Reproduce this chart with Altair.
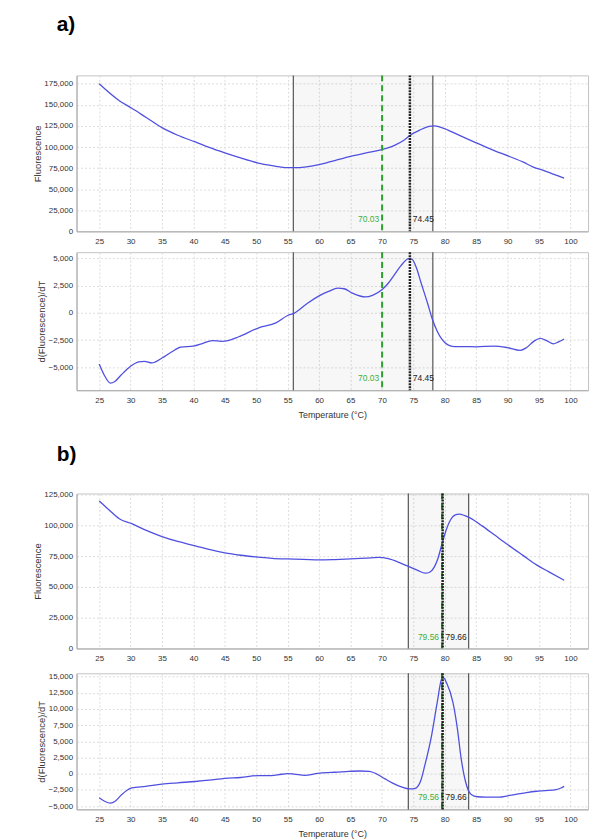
import altair as alt
import pandas as pd

# ---------------- data ----------------
# panel a) fluorescence
a_fl_temp = [25, 28.2, 30.2, 32.5, 35, 37.5, 40.3, 42.5, 45, 47.5, 50.3, 52.5, 55, 56, 58,
             60, 62.5, 65, 67.5, 70, 72, 73.5, 74.5, 76, 77.5, 78.3, 79.5, 82, 85, 87.5,
             90.4, 92.5, 94, 96, 99]
a_fl_val = [175000, 155000, 146000, 135000, 123000, 114000, 106000, 99500, 93000, 87000,
            81000, 78000, 75500, 75500, 76500, 79000, 84000, 89000, 93000, 97000, 102000,
            108000, 114000, 120000, 124500, 125000, 123000, 115000, 105000, 97000, 88500,
            82000, 76500, 71500, 63000]
# panel a) derivative
a_d_temp = [25, 25.8, 26.8, 27.5, 28.5, 30, 31.3, 32.2, 33.4, 35, 36.5, 38, 40, 41.5, 43,
            44.5, 45.5, 47.2, 50.3, 53.2, 55, 56, 58, 60, 61.5, 63, 64, 65.3, 67.4, 68.5,
            70, 71, 72, 73, 74.3, 74.8, 75.5, 76.2, 77.3, 78, 78.8, 79.5, 80.5, 81.5, 83,
            85, 87.8, 90, 92, 93, 94.2, 95.2, 96.2, 97.3, 98, 99]
a_d_val = [-4700, -5700, -6450, -6300, -5700, -4900, -4500, -4450, -4600, -4150, -3600,
           -3150, -3050, -2800, -2550, -2620, -2550, -2200, -1400, -900, -250, -50, 800,
           1550, 1950, 2250, 2200, 1800, 1450, 1600, 2100, 2700, 3500, 4300, 4950, 4900,
           4100, 2800, 800, -550, -1700, -2400, -2950, -3100, -3100, -3120, -3050, -3200,
           -3450, -3200, -2600, -2350, -2550, -2850, -2700, -2400]
a_region = [55.9, 78.1]
a_tm_green = 70.03
a_tm_black = 74.45

# panel b) fluorescence
b_fl_temp = [25, 26.5, 28.2, 30.2, 32.5, 35, 37.5, 40.3, 42.5, 45, 47.5, 50.3, 52.5, 55,
             57.5, 60, 62.5, 65, 67.5, 69.5, 71, 72.5, 74.3, 75.7, 76.9, 77.6, 78.3, 78.9,
             79.5, 80.2, 80.9, 81.6, 82.3, 83.2, 84, 86, 88, 90, 92.5, 94.6, 96.5, 99]
b_fl_val = [120000, 113000, 105500, 101500, 96000, 91000, 87000, 83500, 80500, 77700,
            75800, 74300, 73300, 72800, 72500, 72000, 72300, 72800, 73500, 74000, 73000,
            70500, 66500, 63500, 61200, 62000, 66000, 73000, 84000, 96000, 104500, 108500,
            109300, 108000, 106200, 99500, 92000, 84500, 75500, 68000, 62500, 55500]
# panel b) derivative
b_d_temp = [25, 25.8, 26.8, 27.6, 28.5, 29.5, 30.2, 32.4, 35, 37.5, 40.3, 42.5, 45, 47.5,
            50.3, 52.4, 54, 55, 56, 57.7, 59.8, 62, 64.3, 66.5, 68, 69.2, 70.5, 71.7, 73,
            74.4, 75.3, 76.2, 76.8, 77.9, 78.8, 79.5, 79.8, 80.3, 81.3, 82, 82.6, 83.3,
            84.2, 85.2, 86.6, 88.7, 90, 91.5, 93, 94.6, 96, 97.7, 98.5, 99]
b_d_val = [-3700, -4200, -4550, -4200, -3300, -2500, -2200, -1950, -1600, -1400, -1200,
           -1000, -700, -580, -280, -300, -80, 20, -50, -250, 50, 200, 340, 420, 380, -50,
           -800, -1450, -2000, -2350, -2250, -1000, 1200, 5900, 11000, 14600, 14800, 14000,
           11000, 7000, 2400, -1200, -3200, -3550, -3600, -3620, -3400, -3150, -2900,
           -2700, -2600, -2450, -2200, -1950]
b_region = [74.2, 83.8]
b_tm_green = 79.56
b_tm_black = 79.66

X_DOMAIN = [21.4, 102.8]
X_TICKS = list(range(25, 101, 5))
a_fl_ticks = list(range(0, 175001, 25000))
a_d_ticks = [-5000, -2500, 0, 2500, 5000]
b_fl_ticks = list(range(0, 125001, 25000))
b_d_ticks = list(range(-5000, 15001, 2500))

LINE_COLOR = "#5050e0"
FONT = "Liberation Sans"
WIDTH = 515


def make_panel(temps, vals, ytitle, ydomain, yticks, region, tm_green, tm_black,
               height, xtitle, ytitle_x):
    xs = alt.Scale(domain=X_DOMAIN, nice=False, zero=False)
    if xtitle:
        xaxis = alt.Axis(values=X_TICKS, title=xtitle, titleFontSize=9, titlePadding=6,
                         labelPadding=6)
    else:
        xaxis = alt.Axis(values=X_TICKS, title=None, labelPadding=6)
    ys = alt.Scale(domain=ydomain, nice=False, zero=False)
    yaxis = alt.Axis(values=yticks, format=",.0f", title=ytitle, titleX=ytitle_x,
                     titleFontSize=9.5)

    df = pd.DataFrame({"t": temps, "v": vals})
    reg = pd.DataFrame({"t": [region[0]], "t2": [region[1]]})
    bnd = pd.DataFrame({"t": region})
    g = pd.DataFrame({"t": [tm_green], "lab": [f"{tm_green:.2f}"]})
    k = pd.DataFrame({"t": [tm_black], "lab": [f"{tm_black:.2f}"]})

    x = alt.X("t:Q", scale=xs, axis=xaxis)

    shade = alt.Chart(reg).mark_rect(color="#888888", opacity=0.07).encode(x=x, x2="t2:Q")
    line = alt.Chart(df).mark_line(color=LINE_COLOR, strokeWidth=1.3,
                                   interpolate="monotone").encode(
        x=x, y=alt.Y("v:Q", scale=ys, axis=yaxis))
    rules = alt.Chart(bnd).mark_rule(color="#555555", strokeWidth=1.2).encode(x=x)
    grule = alt.Chart(g).mark_rule(color="#2e9e2e", strokeWidth=2,
                                   strokeDash=[6, 4]).encode(x=x)
    krule = alt.Chart(k).mark_rule(color="#222222", strokeWidth=2.5,
                                   strokeDash=[2, 1]).encode(x=x)
    gtext = alt.Chart(g).mark_text(align="right", baseline="middle", dx=-3,
                                   color="#3fae3f", font=FONT, fontSize=8.5).encode(
        x=x, y=alt.value(height - 12), text="lab:N")
    ktext = alt.Chart(k).mark_text(align="left", baseline="middle", dx=3,
                                   color="#222222", font=FONT, fontSize=8.5).encode(
        x=x, y=alt.value(height - 12), text="lab:N")
    return alt.layer(shade, rules, line, grule, krule, gtext, ktext).properties(
        width=WIDTH, height=height)


a_top = make_panel(a_fl_temp, a_fl_val, "Fluorescence", [0, 185000], a_fl_ticks,
                   a_region, a_tm_green, a_tm_black, 157, None, -34).properties(
    title=alt.Title("a)", anchor="start", frame="group", dx=-20, offset=22,
                    baseline="alphabetic", fontSize=21, fontWeight="bold",
                    font=FONT, color="black"))
a_bot = make_panel(a_d_temp, a_d_val, "d(Fluorescence)/dT", [-7100, 5550], a_d_ticks,
                   a_region, a_tm_green, a_tm_black, 139, "Temperature (°C)", -30)
b_top = make_panel(b_fl_temp, b_fl_val, "Fluorescence", [0, 126000], b_fl_ticks,
                   b_region, b_tm_green, b_tm_black, 156, None, -34).properties(
    title=alt.Title("b)", anchor="start", frame="group", dx=-20, offset=9,
                    baseline="alphabetic", fontSize=21, fontWeight="bold",
                    font=FONT, color="black"))
b_bot = make_panel(b_d_temp, b_d_val, "d(Fluorescence)/dT", [-5500, 15500], b_d_ticks,
                   b_region, b_tm_green, b_tm_black, 137, "Temperature (°C)", -30)

grp_a = alt.vconcat(a_top, a_bot, spacing=4)
grp_b = alt.vconcat(b_top, b_bot, spacing=8)

chart = alt.vconcat(grp_a, grp_b, spacing=23).properties(
    padding={"left": 24, "top": 3, "right": 5, "bottom": 0}
).configure_axis(
    labelFont=FONT, labelFontSize=8, labelColor="#333333",
    titleFont=FONT, titleColor="#333333", titleFontWeight="normal",
    ticks=False, labelPadding=4,
    gridColor="#dcdcdc", gridDash=[2, 2], domainColor="#aaaaaa"
).configure_view(stroke="#c4c4c4")

chart.save("out.html", embed_options={"renderer": "svg", "actions": False})
